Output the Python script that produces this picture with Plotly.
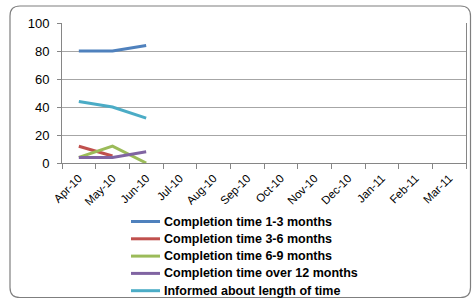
import plotly.graph_objects as go

months = ["Apr-10", "May-10", "Jun-10", "Jul-10", "Aug-10", "Sep-10",
          "Oct-10", "Nov-10", "Dec-10", "Jan-11", "Feb-11", "Mar-11"]
n = len(months)

def pad(vals):
    return vals + [None] * (n - len(vals))

comp_1_3 = [80, 80, 84]
comp_3_6 = [12, 5]
comp_6_9 = [4, 12, 0]
comp_over12 = [4, 4, 8]
informed = [44, 40, 32]

series = [
    ("Completion time 1-3 months", comp_1_3, "#4F81BD"),
    ("Completion time 3-6 months", comp_3_6, "#C0504D"),
    ("Completion time 6-9 months", comp_6_9, "#9BBB59"),
    ("Completion time over 12 months", comp_over12, "#8064A2"),
    ("Informed about length of time", informed, "#4BACC6"),
]

fig = go.Figure()
for name, vals, col in series:
    fig.add_trace(go.Scatter(x=months, y=pad(vals), name=name, mode="lines",
                             line=dict(color=col, width=3), connectgaps=False,
                             showlegend=False))

# pixel -> paper helpers
L, R, T, B = 62, 466, 23, 163
def px(x):
    return (x - L) / (R - L)
def py(y):
    return (B - y) / (B - T)

x0, x1, y0, y1, r = 10, 470.5, 6, 297.5, 10
path = (f"M {px(x0+r)},{py(y0)} L {px(x1-r)},{py(y0)} Q {px(x1)},{py(y0)} {px(x1)},{py(y0+r)} "
        f"L {px(x1)},{py(y1-r)} Q {px(x1)},{py(y1)} {px(x1-r)},{py(y1)} "
        f"L {px(x0+r)},{py(y1)} Q {px(x0)},{py(y1)} {px(x0)},{py(y1-r)} "
        f"L {px(x0)},{py(y0+r)} Q {px(x0)},{py(y0)} {px(x0+r)},{py(y0)} Z")

shapes = [dict(type="path", path=path, xref="paper", yref="paper",
               line=dict(color="#7F7F7F", width=1.2), layer="below")]
annotations = []
leg_top, leg_step = 221.5, 17.3
for i, (name, vals, col) in enumerate(series):
    yy = leg_top + i * leg_step
    shapes.append(dict(type="line", xref="paper", yref="paper",
                       x0=px(131), x1=px(160), y0=py(yy), y1=py(yy),
                       line=dict(color=col, width=3)))
    annotations.append(dict(text=name, xref="paper", yref="paper",
                            x=px(162), y=py(yy), xanchor="left", yanchor="middle",
                            showarrow=False,
                            font=dict(size=12.5, family="Liberation Sans, Arial",
                                      color="black", weight="bold")))

fig.update_layout(
    width=473, height=299,
    margin=dict(l=L, r=473 - R, t=T, b=299 - B, autoexpand=False),
    paper_bgcolor="white", plot_bgcolor="white",
    font=dict(family="Liberation Sans, Arial, sans-serif", color="black"),
    showlegend=False,
    shapes=shapes,
    annotations=annotations,
)
fig.update_xaxes(type="category", categoryorder="array", categoryarray=months,
                 tickangle=-45, tickfont=dict(size=11.5), showgrid=False,
                 showline=True, linecolor="#868686", linewidth=1,
                 ticks="outside", ticklen=5, tickcolor="#868686",
                 ticklabelstandoff=3,
                 tickson="boundaries", range=[-0.5, n - 0.5])
fig.update_yaxes(range=[0, 100], dtick=20, tickfont=dict(size=13),
                 showgrid=True, gridcolor="#A6A6A6", gridwidth=1,
                 showline=True, linecolor="#868686", linewidth=1, mirror=True,
                 ticks="outside", ticklen=4, tickcolor="#868686",
                 ticklabelstandoff=5, zeroline=False)

fig.write_html("out.html", config={"displayModeBar": False},
               post_script="document.body.style.margin='0';document.body.style.overflow='hidden';")
